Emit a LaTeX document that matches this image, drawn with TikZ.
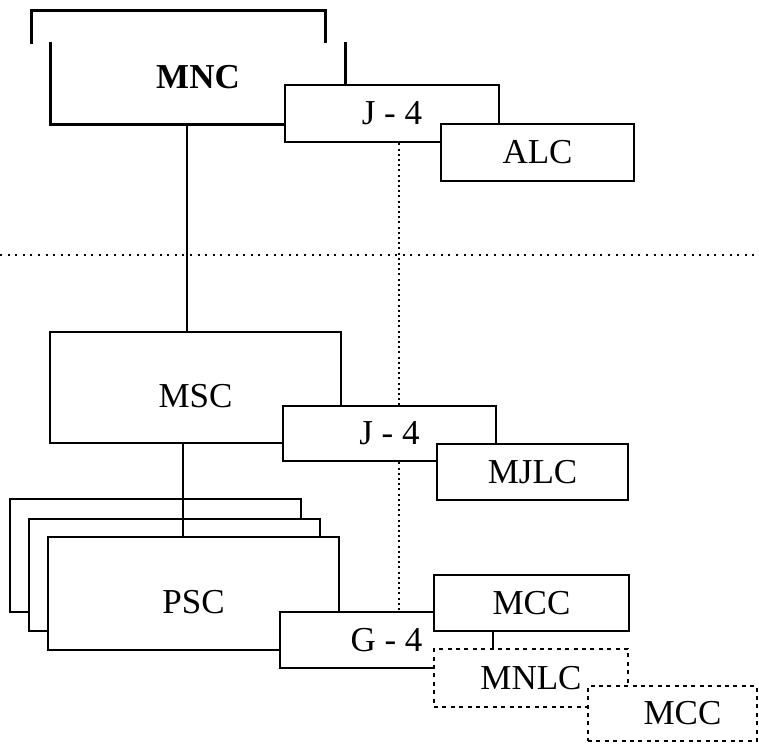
\documentclass[tikz,border=0pt]{standalone}
\usepackage{fontspec}
\setmainfont{Liberation Serif}
\usetikzlibrary{calc}

\begin{document}
\begin{tikzpicture}[x=.5pt,y=-.5pt,line width=1.4pt,
  box/.style={draw,fill=white,inner sep=0pt,font=\fontsize{17.5}{20}\selectfont},
  open/.style={box,draw=none},
  dbox/.style={box,dash pattern=on 2pt off 2.2pt},
  low/.style={text height=19.5pt,text depth=0pt},
  high/.style={text height=11.6pt,text depth=6pt},
  guide/.style={line width=1.1pt,dash pattern=on 1pt off 2.8pt},
  vguide/.style={line width=1.1pt,dash pattern=on 1pt off 1.6pt}]
 \useasboundingbox (0,0) rectangle (759,743);
 \coordinate (hl) at (0,255);
 \coordinate (hr) at (759,255);
 \coordinate (ax) at (187,0);
 \coordinate (bx) at (183,0);
 \coordinate (cx) at (399,0);
 \node[open,minimum width=145.5pt,minimum height=15.5pt] (MNCback) at (178.5,27.5) {};
 \draw (MNCback.south west)--(MNCback.north west)--(MNCback.north east)--(MNCback.south east);
 \node[open,high,minimum width=146pt,minimum height=40pt,font=\fontsize{17.5}{20}\selectfont\bfseries] (MNC) at (198,83) {MNC};
 \draw (MNC.north west)--(MNC.south west)--(MNC.south east)--(MNC.north east);
 \node[box,minimum width=107pt,minimum height=28.5pt] (J4a) at (392,113.5) {J - 4};
 \node[box,minimum width=96.5pt,minimum height=28.5pt] (ALC) at (537.5,152.5) {ALC};
 \draw[guide] (hl)--(hr);
 \node[box,low,minimum width=145.5pt,minimum height=55.5pt] (MSC) at (195.5,387.5) {MSC};
 \node[box,minimum width=106.5pt,minimum height=27.5pt] (J4b) at (389.5,433.5) {J - 4};
 \node[box,minimum width=95.5pt,minimum height=28pt] (MJLC) at (532.5,472) {MJLC};
 \node[box,minimum width=145.5pt,minimum height=56.5pt] (PSCc) at (155.5,555.5) {};
 \node[box,minimum width=145.5pt,minimum height=56pt] (PSCb) at (174.5,575) {};
 \node[box,low,minimum width=145.5pt,minimum height=56.5pt] (PSC) at (193.5,593.5) {PSC};
 \node[box,minimum width=106.5pt,minimum height=28pt] (G4) at (386.5,640) {G - 4};
 \node[box,minimum width=97.5pt,minimum height=28pt] (MCCa) at (531.5,603) {MCC};
 \node[dbox,minimum width=97pt,minimum height=29pt] (MNLC) at (531,678) {MNLC};
 \node[dbox,minimum width=84.5pt,minimum height=27.5pt] (MCCb) at (672.5,713.5) {\hspace*{10pt}MCC};
 \draw (MNC.south -| ax)--(MSC.north -| ax);
 \draw (MSC.south -| bx)--(PSC.north -| bx);
 \draw[vguide] (J4a.south -| cx)--(J4b.north -| cx);
 \draw[vguide] (J4b.south -| cx)--(G4.north -| cx);
\end{tikzpicture}
\end{document}
